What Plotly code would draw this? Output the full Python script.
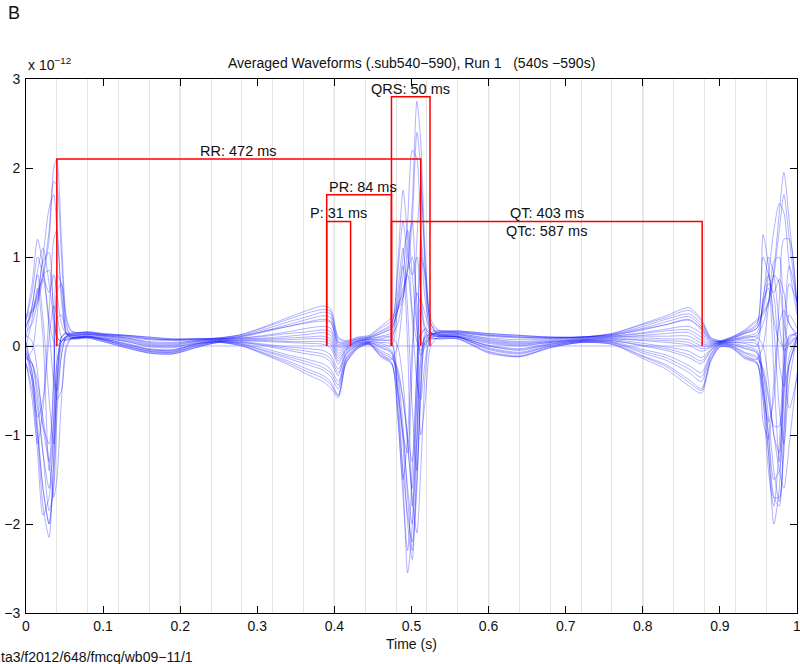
import plotly.graph_objects as go

# ---------------- data ----------------
time_s = [
    0.000, 0.008, 0.015, 0.022, 0.030, 0.036, 0.040, 0.046, 0.052, 0.058, 0.065,
    0.080, 0.100, 0.130, 0.160, 0.190, 0.220, 0.250, 0.280, 0.310, 0.340, 0.365, 0.385,
    0.395, 0.405, 0.415, 0.430, 0.445, 0.460,
    0.474, 0.482, 0.489, 0.495, 0.501, 0.507, 0.512, 0.518, 0.525, 0.535,
    0.560, 0.600, 0.640, 0.680, 0.720, 0.760, 0.800, 0.830, 0.860, 0.876,
    0.888, 0.900, 0.915, 0.932,
    0.948, 0.956, 0.963, 0.970, 0.977, 0.983, 0.990, 1.000,
]

# amplitudes in units of 1e-12 T
ch01 = [0.35, 0.40, 0.55, 0.80, 1.30, 2.00, 2.10, 1.20, 0.35, 0.18, 0.15,
        0.16, 0.14, 0.12, 0.10, 0.08, 0.08, 0.09, 0.13, 0.22, 0.32, 0.40, 0.45,
        0.42, 0.10, 0.06, 0.10, 0.12, 0.22,
        0.32, 0.45, 0.60, 0.90, 1.60, 2.75, 2.30, 1.00, 0.30, 0.18,
        0.17, 0.14, 0.12, 0.10, 0.10, 0.14, 0.25, 0.34, 0.43, 0.30,
        0.10, 0.06, 0.10, 0.18,
        0.30, 0.38, 0.50, 0.85, 1.50, 1.95, 1.40, 0.50]
ch02 = [0.30, 0.70, 1.20, 0.90, 0.30, 0.05, 0.00, 0.05, 0.12, 0.15, 0.15,
        0.15, 0.13, 0.12, 0.09, 0.07, 0.08, 0.09, 0.12, 0.19, 0.27, 0.33, 0.38,
        0.36, 0.05, 0.04, 0.08, 0.10, 0.17,
        0.25, 0.90, 1.75, 1.20, 0.40, 0.05, -0.05, 0.05, 0.15, 0.17,
        0.16, 0.13, 0.11, 0.10, 0.10, 0.13, 0.22, 0.30, 0.36, 0.25,
        0.08, 0.05, 0.09, 0.16,
        0.25, 1.25, 0.90, 0.30, 0.05, 0.00, 0.08, 0.15]
ch03 = [0.25, 0.35, 0.60, 1.00, 1.55, 1.70, 1.30, 0.60, 0.20, 0.13, 0.12,
        0.13, 0.12, 0.10, 0.07, 0.06, 0.07, 0.08, 0.10, 0.16, 0.22, 0.27, 0.30,
        0.28, 0.02, 0.02, 0.07, 0.09, 0.14,
        0.20, 0.40, 0.80, 1.40, 2.20, 2.10, 1.20, 0.50, 0.20, 0.15,
        0.15, 0.11, 0.09, 0.09, 0.10, 0.12, 0.18, 0.24, 0.29, 0.20,
        0.06, 0.05, 0.08, 0.14,
        0.20, 0.40, 0.80, 1.30, 1.60, 1.50, 0.90, 0.35]
ch04 = [0.20, 0.45, 0.85, 1.10, 0.70, 0.30, 0.10, 0.05, 0.10, 0.13, 0.13,
        0.14, 0.12, 0.09, 0.05, 0.04, 0.06, 0.08, 0.09, 0.12, 0.16, 0.20, 0.22,
        0.20, -0.02, 0.00, 0.06, 0.08, 0.11,
        0.15, 0.50, 1.00, 1.30, 0.80, 0.20, -0.10, 0.00, 0.12, 0.15,
        0.14, 0.09, 0.07, 0.08, 0.09, 0.11, 0.15, 0.19, 0.22, 0.14,
        0.04, 0.04, 0.07, 0.11,
        0.15, 0.50, 1.00, 0.80, 0.25, -0.05, 0.02, 0.12]
ch05 = [0.12, 0.05, -0.30, -0.90, -1.30, -0.40, 0.60, 0.70, 0.25, 0.12, 0.12,
        0.13, 0.11, 0.08, 0.03, 0.02, 0.05, 0.07, 0.08, 0.09, 0.11, 0.13, 0.15,
        0.12, -0.08, -0.02, 0.05, 0.07, 0.08,
        0.10, 0.00, -0.40, -1.10, -1.60, -0.50, 1.00, 0.80, 0.25, 0.14,
        0.13, 0.07, 0.04, 0.06, 0.08, 0.10, 0.12, 0.14, 0.15, 0.06,
        0.02, 0.04, 0.06, 0.09,
        0.10, 0.00, -0.40, -1.00, -1.20, -0.20, 0.70, 0.50]
ch06 = [0.05, -0.30, -1.00, -1.80, -2.15, -1.20, -0.40, 0.10, 0.15, 0.12, 0.11,
        0.12, 0.10, 0.06, 0.01, 0.00, 0.04, 0.07, 0.07, 0.07, 0.07, 0.08, 0.08,
        0.05, -0.14, -0.04, 0.04, 0.06, 0.06,
        0.05, -0.50, -1.50, -2.55, -2.00, -0.60, 0.10, 0.20, 0.15, 0.13,
        0.12, 0.05, 0.02, 0.05, 0.07, 0.09, 0.09, 0.08, 0.07, 0.00,
        0.00, 0.04, 0.05, 0.06,
        0.05, -0.40, -1.20, -2.00, -1.60, -0.50, 0.10, 0.15]
ch07 = [0.00, 0.30, 0.65, 0.10, -1.40, -0.80, 0.30, 0.35, 0.15, 0.10, 0.10,
        0.11, 0.09, 0.05, -0.01, -0.02, 0.03, 0.06, 0.06, 0.05, 0.04, 0.03, 0.02,
        -0.02, -0.20, -0.06, 0.03, 0.05, 0.03,
        0.00, 0.40, 0.90, 0.00, -1.80, -1.00, 0.50, 0.35, 0.15, 0.12,
        0.11, 0.03, 0.00, 0.04, 0.07, 0.08, 0.06, 0.04, 0.01, -0.06,
        -0.02, 0.03, 0.04, 0.03,
        0.00, 0.50, 0.65, -0.30, -1.30, -0.40, 0.35, 0.20]
ch08 = [-0.05, -0.20, -0.60, -1.20, -1.85, -1.60, -0.80, -0.10, 0.10, 0.10, 0.09,
        0.10, 0.08, 0.03, -0.03, -0.04, 0.02, 0.06, 0.05, 0.02, -0.01, -0.03, -0.05,
        -0.10, -0.26, -0.08, 0.02, 0.04, 0.01,
        -0.05, -0.30, -0.90, -1.70, -2.30, -1.60, -0.40, 0.15, 0.12, 0.11,
        0.10, 0.01, -0.03, 0.03, 0.06, 0.07, 0.03, -0.01, -0.06, -0.13,
        -0.04, 0.03, 0.03, 0.00,
        -0.05, -0.30, -0.80, -1.40, -1.75, -1.20, -0.20, 0.10]
ch09 = [-0.08, -0.40, -0.80, -0.60, 0.40, 1.20, 1.30, 0.50, 0.15, 0.10, 0.10,
        0.11, 0.08, 0.02, -0.04, -0.05, 0.02, 0.05, 0.04, 0.00, -0.05, -0.09, -0.12,
        -0.18, -0.33, -0.10, 0.01, 0.04, -0.02,
        -0.08, -0.50, -1.00, -1.20, -0.20, 1.20, 1.80, 0.90, 0.25, 0.12,
        0.11, 0.00, -0.05, 0.02, 0.06, 0.06, 0.00, -0.05, -0.13, -0.20,
        -0.06, 0.02, 0.02, -0.03,
        -0.08, -0.50, -0.85, -0.60, 0.50, 1.20, 1.20, 0.40]
ch10 = [-0.12, -0.20, -0.40, -0.80, -1.30, -1.70, -1.50, -0.60, 0.00, 0.08, 0.09,
        0.10, 0.07, 0.01, -0.05, -0.06, 0.01, 0.05, 0.03, -0.03, -0.10, -0.15, -0.20,
        -0.26, -0.40, -0.13, 0.00, 0.03, -0.05,
        -0.12, -0.30, -0.60, -1.10, -1.70, -2.10, -1.40, -0.30, 0.10, 0.11,
        0.10, -0.02, -0.07, 0.01, 0.05, 0.05, -0.04, -0.10, -0.22, -0.30,
        -0.09, 0.02, 0.01, -0.07,
        -0.12, -0.30, -0.60, -1.00, -1.40, -1.60, -1.10, -0.30]
ch11 = [-0.15, -0.05, 0.40, 0.95, 1.05, 0.10, -0.60, -0.50, -0.05, 0.08, 0.10,
        0.11, 0.07, 0.00, -0.06, -0.07, 0.00, 0.05, 0.02, -0.06, -0.14, -0.21, -0.27,
        -0.34, -0.48, -0.16, -0.01, 0.03, -0.08,
        -0.15, 0.00, 0.50, 1.10, 1.40, 0.20, -1.00, -0.60, 0.00, 0.10,
        0.10, -0.04, -0.09, 0.00, 0.05, 0.04, -0.08, -0.16, -0.30, -0.40,
        -0.12, 0.01, 0.00, -0.10,
        -0.15, 0.00, 0.45, 0.95, 1.00, -0.10, -0.70, -0.35]
ch12 = [-0.18, -0.60, -1.10, -0.70, 0.10, 0.45, 0.35, 0.10, 0.06, 0.08, 0.09,
        0.10, 0.06, -0.01, -0.07, -0.08, -0.01, 0.04, 0.01, -0.08, -0.17, -0.26, -0.33,
        -0.40, -0.55, -0.18, -0.02, 0.02, -0.10,
        -0.18, -0.80, -1.50, -1.00, 0.00, 0.60, 0.45, 0.15, 0.08, 0.09,
        0.09, -0.06, -0.11, -0.01, 0.04, 0.03, -0.11, -0.21, -0.38, -0.48,
        -0.15, 0.00, -0.01, -0.12,
        -0.18, -0.85, -1.05, -0.40, 0.25, 0.40, 0.25, 0.10]
ch13 = [-0.22, -0.35, -0.70, -1.20, -1.60, -1.00, -0.20, 0.05, 0.08, 0.08, 0.08,
        0.09, 0.05, -0.02, -0.08, -0.09, -0.02, 0.04, 0.00, -0.10, -0.21, -0.32, -0.40,
        -0.47, -0.58, -0.20, -0.03, 0.02, -0.12,
        -0.20, -0.50, -1.00, -1.60, -2.00, -1.00, -0.10, 0.10, 0.09, 0.08,
        0.08, -0.08, -0.12, -0.02, 0.04, 0.02, -0.14, -0.26, -0.45, -0.53,
        -0.18, -0.01, -0.02, -0.14,
        -0.20, -0.50, -1.00, -1.50, -1.40, -0.60, 0.05, 0.10]
ch14 = [0.22, 0.40, 0.60, 0.75, 0.20, -0.40, -0.50, -0.10, 0.10, 0.13, 0.14,
        0.15, 0.13, 0.11, 0.08, 0.07, 0.08, 0.08, 0.11, 0.17, 0.22, 0.26, 0.28,
        0.27, 0.00, 0.01, 0.06, 0.09, 0.14,
        0.20, 0.40, 0.65, 0.80, 0.30, -0.40, -0.60, -0.15, 0.12, 0.15,
        0.15, 0.12, 0.10, 0.09, 0.10, 0.12, 0.19, 0.24, 0.30, 0.18,
        0.05, 0.05, 0.08, 0.14,
        0.20, 0.45, 0.70, 0.55, -0.20, -0.45, -0.20, 0.10]
ch15 = [0.32, 0.38, 0.50, 0.75, 1.20, 1.85, 1.80, 1.00, 0.30, 0.17, 0.15,
        0.16, 0.14, 0.12, 0.10, 0.08, 0.08, 0.09, 0.13, 0.21, 0.30, 0.37, 0.41,
        0.39, 0.08, 0.05, 0.09, 0.11, 0.20,
        0.28, 0.40, 0.55, 0.85, 1.40, 2.40, 2.00, 0.80, 0.25, 0.17,
        0.17, 0.14, 0.12, 0.10, 0.10, 0.14, 0.24, 0.32, 0.40, 0.28,
        0.09, 0.06, 0.10, 0.17,
        0.28, 0.35, 0.48, 0.80, 1.30, 1.70, 1.20, 0.45]
ch16 = [0.28, 0.60, 1.00, 0.80, 0.60, 0.80, 0.60, 0.25, 0.14, 0.14, 0.14,
        0.15, 0.13, 0.11, 0.08, 0.07, 0.07, 0.08, 0.11, 0.17, 0.24, 0.30, 0.34,
        0.32, 0.04, 0.03, 0.08, 0.10, 0.16,
        0.23, 0.80, 1.40, 1.00, 0.80, 1.00, 0.60, 0.20, 0.14, 0.16,
        0.16, 0.12, 0.10, 0.09, 0.10, 0.13, 0.20, 0.27, 0.33, 0.22,
        0.07, 0.05, 0.09, 0.15,
        0.23, 1.00, 0.80, 0.60, 0.75, 0.60, 0.25, 0.14]
ch17 = [0.16, 0.25, 0.50, 0.80, 0.85, 0.40, 0.10, 0.05, 0.11, 0.13, 0.13,
        0.14, 0.12, 0.09, 0.04, 0.03, 0.06, 0.08, 0.09, 0.11, 0.14, 0.16, 0.18,
        0.16, -0.05, -0.01, 0.05, 0.08, 0.10,
        0.12, 0.25, 0.55, 0.85, 1.00, 0.50, 0.05, 0.02, 0.12, 0.14,
        0.14, 0.08, 0.05, 0.07, 0.09, 0.11, 0.14, 0.17, 0.18, 0.10,
        0.03, 0.04, 0.07, 0.10,
        0.12, 0.25, 0.50, 0.80, 0.70, 0.25, 0.02, 0.10]
ch18 = [0.03, -0.40, -1.20, -1.90, -1.70, -0.80, -0.20, 0.10, 0.14, 0.11, 0.10,
        0.11, 0.09, 0.05, 0.00, -0.01, 0.03, 0.06, 0.06, 0.06, 0.05, 0.05, 0.05,
        0.02, -0.17, -0.05, 0.03, 0.05, 0.04,
        0.02, -0.70, -1.70, -2.30, -1.40, -0.30, 0.15, 0.18, 0.13, 0.12,
        0.11, 0.04, 0.01, 0.04, 0.07, 0.08, 0.07, 0.06, 0.04, -0.03,
        -0.01, 0.03, 0.04, 0.04,
        0.02, -0.60, -1.40, -1.80, -1.10, -0.20, 0.12, 0.12]
ch19 = [-0.07, -0.30, -0.90, -1.60, -2.00, -1.30, -0.40, 0.05, 0.10, 0.10, 0.09,
        0.10, 0.08, 0.02, -0.04, -0.05, 0.02, 0.05, 0.04, 0.01, -0.03, -0.06, -0.09,
        -0.14, -0.30, -0.09, 0.01, 0.04, -0.01,
        -0.07, -0.40, -1.10, -2.00, -2.40, -1.20, -0.20, 0.12, 0.11, 0.11,
        0.10, 0.00, -0.04, 0.02, 0.06, 0.06, 0.01, -0.03, -0.10, -0.17,
        -0.05, 0.02, 0.02, -0.02,
        -0.07, -0.40, -1.00, -1.70, -1.80, -0.90, -0.10, 0.10]
ch20 = [-0.14, -0.20, -0.50, -0.90, -1.10, -0.30, 0.80, 0.70, 0.15, 0.08, 0.09,
        0.10, 0.07, 0.00, -0.06, -0.07, 0.00, 0.05, 0.02, -0.05, -0.12, -0.18, -0.24,
        -0.30, -0.44, -0.14, -0.01, 0.03, -0.07,
        -0.14, -0.25, -0.60, -1.00, -1.30, -0.20, 1.20, 0.70, 0.15, 0.10,
        0.10, -0.03, -0.08, 0.00, 0.05, 0.04, -0.06, -0.13, -0.26, -0.35,
        -0.10, 0.01, 0.00, -0.08,
        -0.14, -0.25, -0.55, -0.90, -0.90, 0.20, 0.90, 0.50]
ch21 = [-0.20, -0.50, -1.00, -1.60, -2.00, -1.50, -0.60, 0.00, 0.07, 0.08, 0.08,
        0.09, 0.05, -0.02, -0.08, -0.09, -0.02, 0.04, 0.00, -0.09, -0.19, -0.29, -0.36,
        -0.43, -0.56, -0.19, -0.03, 0.02, -0.11,
        -0.19, -0.70, -1.40, -1.90, -2.20, -1.50, -0.50, 0.05, 0.09, 0.08,
        0.08, -0.07, -0.12, -0.02, 0.04, 0.02, -0.12, -0.23, -0.41, -0.50,
        -0.16, -0.01, -0.02, -0.13,
        -0.19, -0.60, -1.20, -1.70, -1.70, -1.00, -0.20, 0.05]
ch22 = [0.09, 0.45, 0.80, 0.30, -0.60, -1.10, -0.50, 0.10, 0.14, 0.12, 0.12,
        0.13, 0.11, 0.07, 0.02, 0.01, 0.05, 0.07, 0.08, 0.08, 0.09, 0.10, 0.11,
        0.08, -0.11, -0.03, 0.05, 0.07, 0.07,
        0.08, 0.60, 1.10, 0.40, -0.70, -1.40, -0.60, 0.10, 0.14, 0.13,
        0.13, 0.06, 0.03, 0.05, 0.08, 0.10, 0.11, 0.11, 0.11, 0.03,
        0.01, 0.04, 0.06, 0.08,
        0.08, 0.55, 0.80, 0.20, -0.70, -1.10, -0.40, 0.10]
flat_time_s = [0.0, 1.0]
flat_channel = [0.0, 0.0]

channels = [ch01, ch02, ch03, ch04, ch05, ch06, ch07, ch08, ch09, ch10, ch11,
            ch12, ch13, ch14, ch15, ch16, ch17, ch18, ch19, ch20, ch21, ch22]

# measured intervals (red brackets)
interval_names = ["RR", "P", "PR", "QRS", "QT"]
interval_start_s = [0.040, 0.390, 0.390, 0.474, 0.474]
interval_ms = [472, 31, 84, 50, 403]
interval_level = [2.1, 1.4, 1.7, 2.8, 1.4]
qtc_ms = 587

x_ticks = [0, 0.1, 0.2, 0.3, 0.4, 0.5, 0.6, 0.7, 0.8, 0.9, 1]
y_ticks = [-3, -2, -1, 0, 1, 2, 3]

FONT = "Liberation Sans, Arial, sans-serif"
TXT = "#111111"

fig = go.Figure()

for ch in channels:
    fig.add_trace(go.Scatter(
        x=time_s, y=ch, mode="lines",
        line=dict(color="rgba(20,20,255,0.33)", width=1, shape="spline", smoothing=0.7),
        hoverinfo="skip", showlegend=False))
fig.add_trace(go.Scatter(
    x=flat_time_s, y=flat_channel, mode="lines",
    line=dict(color="rgba(90,90,255,0.45)", width=1),
    hoverinfo="skip", showlegend=False))

# red brackets
label_anchor = {"RR": ("center", "mid"), "P": ("center", "mid"), "PR": ("left", "start"),
                "QRS": ("center", "mid"), "QT": ("center", "mid")}
for name, t0, ms, lev in zip(interval_names, interval_start_s, interval_ms, interval_level):
    t1 = t0 + ms / 1000.0
    fig.add_trace(go.Scatter(
        x=[t0, t0, t1, t1], y=[0, lev, lev, 0], mode="lines",
        line=dict(color="#ff0000", width=1.5), hoverinfo="skip", showlegend=False))
    xanchor, where = label_anchor[name]
    tx = t0 if where == "start" else (t0 + t1) / 2
    fig.add_annotation(x=tx, y=lev, text=f"{name}: {ms} ms", showarrow=False,
                       xanchor=xanchor, yanchor="bottom", yshift=-2,
                       font=dict(family=FONT, size=14.5, color=TXT))
    if name == "QT":
        fig.add_annotation(x=(t0 + t1) / 2, y=lev, text=f"QTc: {qtc_ms} ms", showarrow=False,
                           xanchor="center", yanchor="top", yshift=0,
                           font=dict(family=FONT, size=14.5, color=TXT))

# darker 0.2 s grid lines
for k in range(1, 5):
    fig.add_shape(type="line", xref="x", yref="paper", x0=0.2 * k, x1=0.2 * k, y0=0, y1=1,
                  line=dict(color="#cfcfcf", width=1.3), layer="below")

axis_common = dict(showline=True, linecolor="black", linewidth=1, mirror="allticks",
                   ticks="inside", ticklen=7, tickcolor="black", zeroline=False,
                   ticklabeloverflow="allow",
                   tickfont=dict(family=FONT, size=14, color=TXT))

fig.update_xaxes(range=[0, 1], tickvals=x_ticks, ticktext=[f"{v:g}" for v in x_ticks],
                 showgrid=False,
                 minor=dict(dtick=0.04, tick0=0, showgrid=True, gridcolor="#e4e4e4",
                            gridwidth=1, ticks=""),
                 **axis_common)
fig.update_yaxes(range=[-3, 3], tickvals=y_ticks,
                 ticktext=[str(v).replace("-", "\u2212") for v in y_ticks],
                 showgrid=False, ticklabelstandoff=2, **axis_common)

fig.add_annotation(xref="paper", yref="paper", x=0.5, y=1.03,
                   text="Averaged Waveforms (.sub540\u2212590), Run 1   (540s \u2212590s)",
                   showarrow=False, xanchor="center", yanchor="middle",
                   font=dict(family=FONT, size=14, color=TXT))
fig.add_annotation(xref="paper", yref="paper", x=0.0, y=1.008,
                   text="x 10<sup>\u221212</sup>", showarrow=False, xanchor="left", yanchor="bottom",
                   font=dict(family=FONT, size=14, color=TXT))
fig.add_annotation(xref="paper", yref="paper", x=0.5, y=-0.058,
                   text="Time (s)", showarrow=False, xanchor="center", yanchor="middle",
                   font=dict(family=FONT, size=14, color=TXT))
fig.add_annotation(xref="paper", yref="paper", x=-0.035, y=-0.082,
                   text="ta3/f2012/648/fmcq/wb09\u221211/1", showarrow=False,
                   xanchor="left", yanchor="middle",
                   font=dict(family=FONT, size=14, color=TXT))
fig.add_annotation(xref="paper", yref="paper", x=-0.026, y=1.124,
                   text="B", showarrow=False, xanchor="left", yanchor="middle",
                   font=dict(family=FONT, size=18, color=TXT))

fig.update_layout(width=800, height=664, margin=dict(l=26, r=3, t=79, b=51, autoexpand=False),
                  plot_bgcolor="white", paper_bgcolor="white", showlegend=False)

fig.write_html("out.html", config={"displayModeBar": False},
               post_script="document.body.style.margin='0px';")
